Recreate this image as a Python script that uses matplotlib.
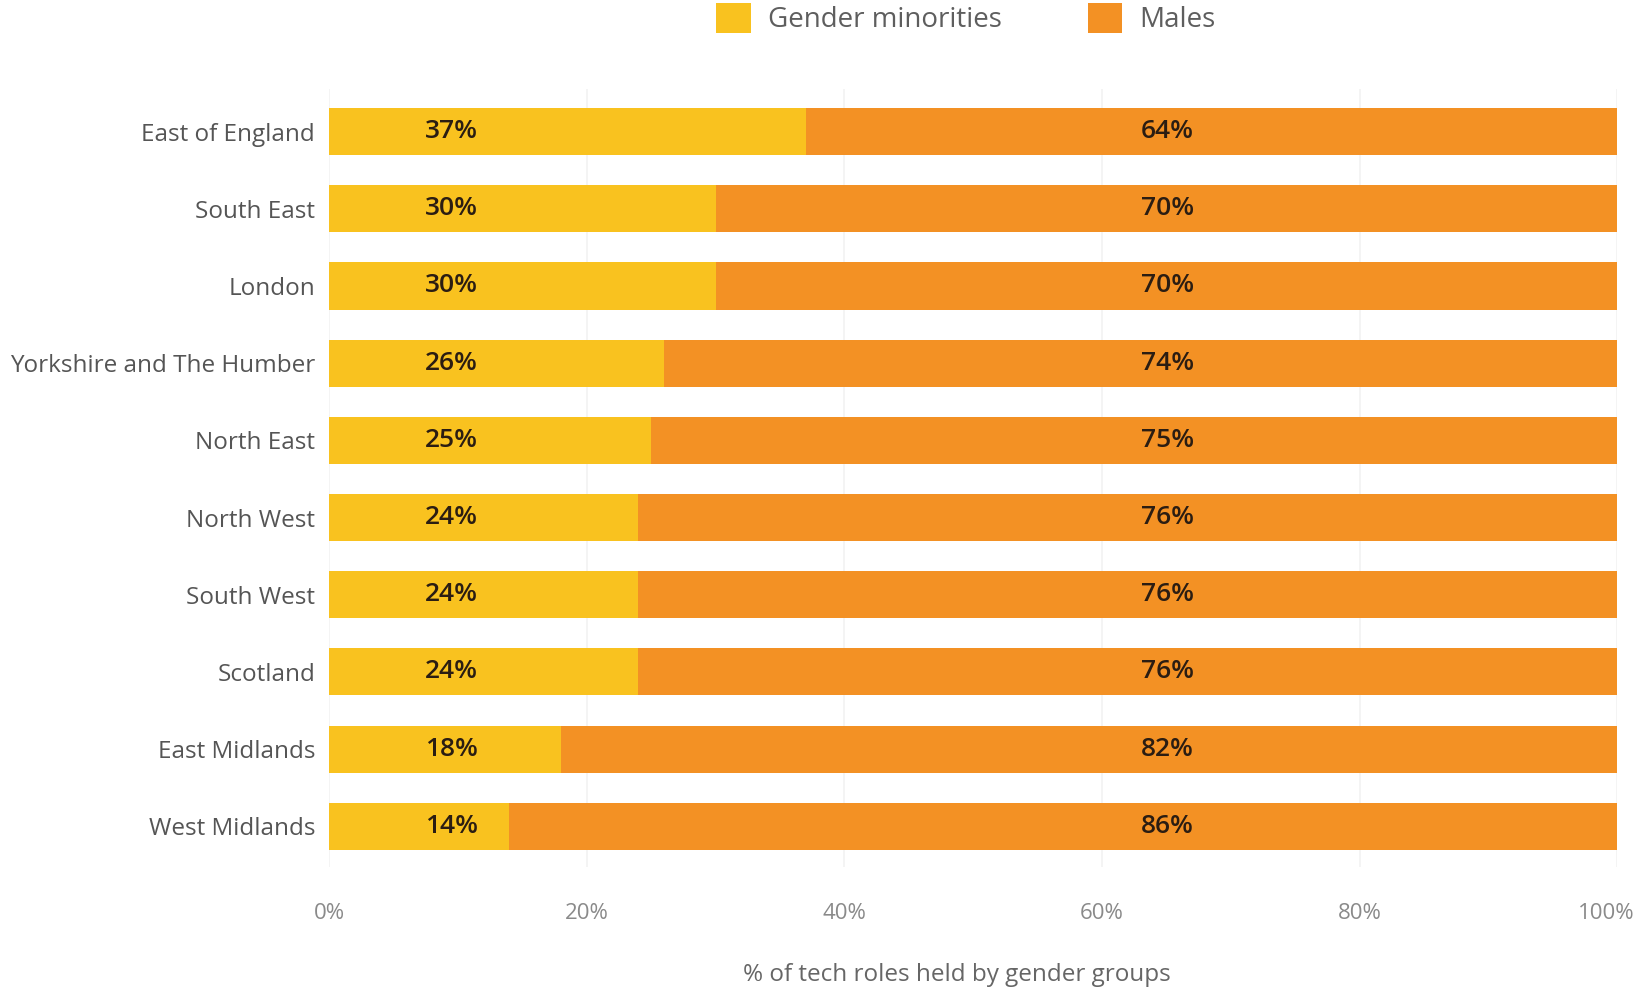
import matplotlib
matplotlib.use("Agg")
import matplotlib.pyplot as plt
import matplotlib.transforms as mtransforms
from matplotlib.patches import Patch

plt.rcParams['font.family'] = ['Open Sans', 'DejaVu Sans']

# Share of tech roles by region
regions = ["East of England", "South East", "London", "Yorkshire and The Humber",
           "North East", "North West", "South West", "Scotland",
           "East Midlands", "West Midlands"]
minorities = [37, 30, 30, 26, 25, 24, 24, 24, 18, 14]
males = [64, 70, 70, 74, 75, 76, 76, 76, 82, 86]
ticks = [0, 20, 40, 60, 80, 100]
tick_labels = ["0%", "20%", "40%", "60%", "80%", "100%"]

yellow = "#F9C21F"
orange = "#F39124"

fig = plt.figure(figsize=(16.37, 9.91), dpi=100)
ax = fig.add_axes([0.201, 0.125, 0.787, 0.785])

y = list(range(len(regions)))
bar_h = 0.61
# males bars anchored at the 100% end, minorities drawn over them from zero
ax.barh(y, males, left=[100 - m for m in males], height=bar_h, color=orange, zorder=2)
ax.barh(y, minorities, height=bar_h, color=yellow, zorder=3)

# value labels sit at fixed positions inside each segment
trans = mtransforms.blended_transform_factory(ax.transAxes, ax.transData)
for i in y:
    ax.text(0.095, i, f"{minorities[i]}%", transform=trans, ha="center", va="center",
            fontsize=19, fontweight="semibold", color="#2b1d12", zorder=4)
    ax.text(0.651, i, f"{males[i]}%", transform=trans, ha="center", va="center",
            fontsize=19, fontweight="semibold", color="#2b1d12", zorder=4)

ax.set_xlim(0, 100)
ax.set_ylim(len(regions) - 0.47, -0.55)
ax.set_yticks(y)
ax.set_yticklabels(regions, fontsize=17.5, color="#555555")
ax.set_xticks(ticks)
ax.set_xticklabels(tick_labels, fontsize=16, color="#8a8a8a")
ax.tick_params(axis="y", length=0, pad=10)
ax.tick_params(axis="x", length=0, pad=26)
ax.grid(axis="x", color="#f2f2f2", linewidth=1.2, zorder=0)
for s in ax.spines.values():
    s.set_visible(False)

# keep the 100% label inside the figure
last = ax.get_xticklabels()[-1]
last.set_transform(last.get_transform() + mtransforms.ScaledTranslation(-0.11, 0, fig.dpi_scale_trans))

ax.set_xlabel("% of tech roles held by gender groups", fontsize=17.5, color="#666666")
ax.xaxis.set_label_coords(0.487, -0.123)

handles = [Patch(facecolor=yellow, label="Gender minorities"),
           Patch(facecolor=orange, label="Males")]
fig.legend(handles=handles, loc="upper center", bbox_to_anchor=(0.59, 1.022), ncol=2,
           frameon=False, fontsize=20, labelcolor="#5e5e5e", handlelength=1.25,
           handleheight=1.25, handletextpad=0.6, columnspacing=3.1)

fig.savefig("out.png", dpi=100, facecolor="white")
